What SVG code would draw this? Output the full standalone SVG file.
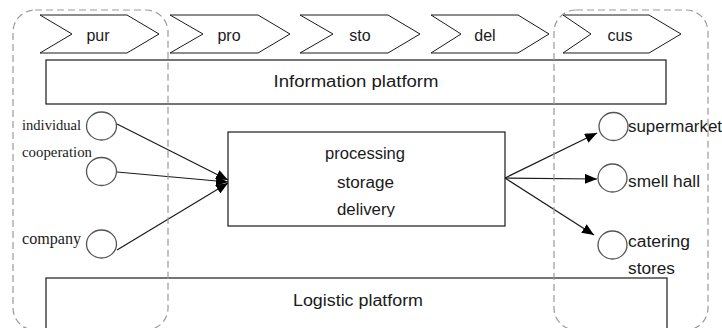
<svg xmlns="http://www.w3.org/2000/svg" width="722" height="328" viewBox="0 0 722 328">
<style>
.box{fill:#fff;stroke:#1a1a1a;stroke-width:1.2}
.chev{fill:#fff;stroke:#1a1a1a;stroke-width:1}
.zone{fill:none;stroke:#9a9a9a;stroke-width:1.2;stroke-dasharray:7,4}
.circ{fill:#fff;stroke:#555;stroke-width:1.3}
.sans{font-family:"Liberation Sans",Arial,sans-serif;font-size:16px;fill:#1a1a1a}
.serif{font-family:"Liberation Serif","Times New Roman",serif;fill:#1a1a1a}
.mid{text-anchor:middle}
.conn{stroke:#1a1a1a;stroke-width:1.2;fill:none}
</style>
<defs>
<marker id="ah" markerWidth="12" markerHeight="10" refX="12" refY="5" orient="auto" markerUnits="userSpaceOnUse">
<path d="M0,0 L12,5 L0,10 Z" fill="#000"/>
</marker>
<clipPath id="midclip"><rect x="228" y="132" width="277" height="85"/></clipPath>
</defs>
<rect width="722" height="328" fill="#fff"/>

<g id="stage-pur"><polygon class="chev" points="40,15 127,15 159,34 127,53 40,53 72,34"/><text class="sans mid" x="98" y="41">pur</text></g>
<g id="stage-pro"><polygon class="chev" points="170,15 258,15 290,34 258,53 170,53 203,34"/><text class="sans mid" x="229" y="41">pro</text></g>
<g id="stage-sto"><polygon class="chev" points="300,15 388,15 420,34 388,53 300,53 333,34"/><text class="sans mid" x="360" y="41">sto</text></g>
<g id="stage-del"><polygon class="chev" points="431,15 518,15 549,34 518,53 431,53 461,34"/><text class="sans mid" x="485" y="41">del</text></g>
<g id="stage-cus"><polygon class="chev" points="563,15 649,15 681,34 649,53 563,53 591,34"/><text class="sans mid" x="620" y="41">cus</text></g>

<g id="info-platform"><rect class="box" x="46" y="60" width="620" height="44"/><text class="sans mid" x="356" y="87" textLength="165" lengthAdjust="spacingAndGlyphs">Information platform</text></g>

<g id="logistic-platform"><rect class="box" x="46" y="278" width="621" height="52"/><text class="sans mid" x="358" y="306" textLength="130" lengthAdjust="spacingAndGlyphs">Logistic platform</text></g>

<g id="center"><rect class="box" x="228" y="132" width="277" height="94"/>
<g clip-path="url(#midclip)">
<text class="sans mid" x="365" y="159" textLength="80" lengthAdjust="spacingAndGlyphs">processing</text>
<text class="sans mid" x="365.5" y="188" textLength="57" lengthAdjust="spacingAndGlyphs">storage</text>
<text class="sans mid" x="366" y="215" textLength="58" lengthAdjust="spacingAndGlyphs">delivery</text>
</g></g>

<g id="individual"><ellipse class="circ" cx="101.5" cy="126" rx="15" ry="14"/><text class="serif" x="81" y="130" font-size="14.5" text-anchor="end" textLength="59" lengthAdjust="spacingAndGlyphs">individual</text></g>
<g id="cooperation"><ellipse class="circ" cx="101.5" cy="171.5" rx="15" ry="14"/><text class="serif" x="22" y="157" font-size="14.5" textLength="70" lengthAdjust="spacingAndGlyphs">cooperation</text></g>
<g id="company"><ellipse class="circ" cx="101.5" cy="244" rx="15" ry="14"/><text class="serif" x="81" y="244" font-size="16" text-anchor="end" textLength="59" lengthAdjust="spacingAndGlyphs">company</text></g>

<g id="supermarket"><ellipse class="circ" cx="613.5" cy="126.5" rx="14.5" ry="14"/><text class="sans" x="628" y="132" textLength="94" lengthAdjust="spacingAndGlyphs">supermarket</text></g>
<g id="smell-hall"><ellipse class="circ" cx="612.5" cy="178" rx="14.5" ry="14"/><text class="sans" x="628" y="187" textLength="72" lengthAdjust="spacingAndGlyphs">smell hall</text></g>
<g id="catering"><ellipse class="circ" cx="612.5" cy="245" rx="14.5" ry="14"/><text class="sans" x="628" y="247" textLength="62" lengthAdjust="spacingAndGlyphs">catering</text><text class="sans" x="628" y="274" textLength="47" lengthAdjust="spacingAndGlyphs">stores</text></g>

<g id="connectors">
<line class="conn" x1="117" y1="124" x2="228" y2="180" marker-end="url(#ah)"/>
<line class="conn" x1="117" y1="172" x2="228" y2="182" marker-end="url(#ah)"/>
<line class="conn" x1="117" y1="250" x2="228" y2="183" marker-end="url(#ah)"/>
<line class="conn" x1="505" y1="178" x2="597" y2="133" marker-end="url(#ah)"/>
<line class="conn" x1="505" y1="178" x2="597" y2="179" marker-end="url(#ah)"/>
<line class="conn" x1="505" y1="178" x2="594" y2="235" marker-end="url(#ah)"/>
</g>

<g id="zone-left"><rect class="zone" x="13" y="10" width="155" height="320" rx="22"/></g>
<g id="zone-right"><rect class="zone" x="554" y="10" width="154" height="320" rx="22"/></g>
</svg>
